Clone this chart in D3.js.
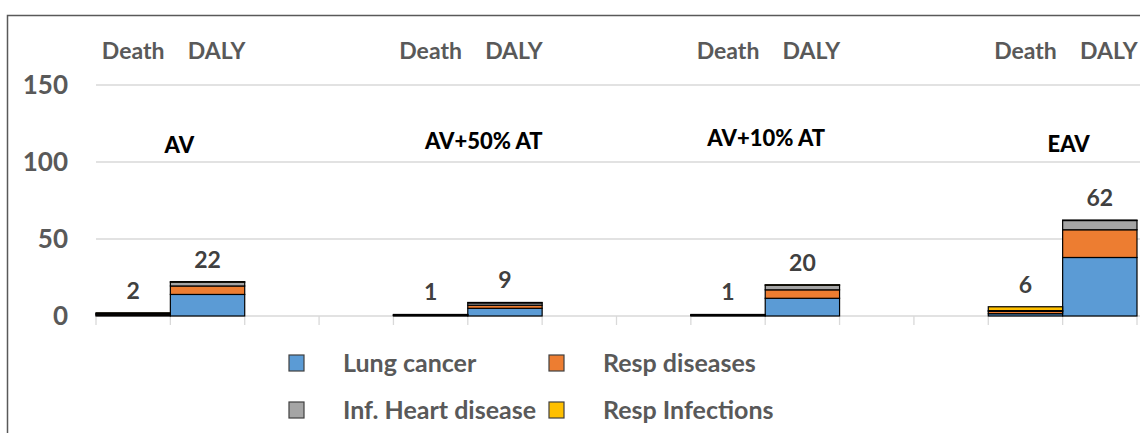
<!DOCTYPE html>
<html>
<head>
<meta charset="utf-8">
<script src="https://cdn.jsdelivr.net/npm/d3@7"></script>
<style>
  body { margin: 0; background: #fff; }
  svg { display: block; font-family: Lato, "Open Sans", sans-serif; font-weight: bold; }
  .grid line { stroke: #d9d9d9; stroke-width: 1.3; }
  .bar { stroke: #000; stroke-width: 1.2; }
</style>
</head>
<body>
<svg id="svg" width="1140" height="433"></svg>
<script>
const scenarios = ["AV", "AV+50% AT", "AV+10% AT", "EAV"];
const causes = ["Lung cancer", "Resp diseases", "Inf. Heart disease", "Resp Infections"];
const colors = ["#5b9bd5", "#ed7d31", "#a5a5a5", "#ffc000"];

// values per cause, one entry per scenario
const deathLung = [0.6, 0.3, 0.3, 1.5];
const deathResp = [0.6, 0.3, 0.3, 1.5];
const deathHeart = [0.3, 0.1, 0.1, 0.5];
const deathInf = [0.6, 0.3, 0.3, 2.5];
const dalyLung = [14, 5, 11.5, 38];
const dalyResp = [5.5, 2, 5.5, 18];
const dalyHeart = [2.5, 1.5, 3, 6];
const dalyInf = [0.3, 0.3, 0.3, 0.3];

const deathLabels = ["2", "1", "1", "6"];
const dalyLabels = ["22", "9", "20", "62"];
const yTicks = [0, 50, 100, 150];

const svg = d3.select("svg#svg");

// frame
svg.append("path")
  .attr("d", "M7.5,433 V15.5 H1140")
  .attr("fill", "none")
  .attr("stroke", "#595959")
  .attr("stroke-width", 1.5);

const slots = d3.range(14);
const x = d3.scaleBand().domain(slots).range([96, 1137]).padding(0);
const y = d3.scaleLinear().domain([0, 150]).range([316, 85]);

// gridlines
const grid = svg.append("g").attr("class", "grid");
grid.selectAll("line.h")
  .data(yTicks)
  .enter()
  .append("line")
  .attr("x1", 96).attr("x2", 1140)
  .attr("y1", d => y(d)).attr("y2", d => y(d));

// category tick marks under the baseline
grid.selectAll("line.t")
  .data(d3.range(15))
  .enter()
  .append("line")
  .attr("x1", d => 96 + d * x.bandwidth())
  .attr("x2", d => 96 + d * x.bandwidth())
  .attr("y1", y(0)).attr("y2", y(0) + 9);

svg.selectAll("text.ytick")
  .data(yTicks)
  .enter()
  .append("text")
  .attr("class", "ytick")
  .attr("x", 68)
  .attr("y", d => y(d))
  .attr("dy", "0.36em")
  .attr("text-anchor", "end")
  .attr("font-size", 26)
  .attr("fill", "#595959")
  .text(d => d);

// build bars
const deathVals = [deathLung, deathResp, deathHeart, deathInf];
const dalyVals = [dalyLung, dalyResp, dalyHeart, dalyInf];
const bars = [];
scenarios.forEach(function(s, i) {
  bars.push({ slot: i * 4, vals: deathVals.map(v => v[i]), label: deathLabels[i] });
  bars.push({ slot: i * 4 + 1, vals: dalyVals.map(v => v[i]), label: dalyLabels[i] });
});

const stack = d3.stack().keys(d3.range(4)).value((d, k) => d.vals[k]);
const series = stack(bars);

svg.append("g").selectAll("g")
  .data(series)
  .enter()
  .append("g")
  .attr("fill", (d, i) => colors[i])
  .selectAll("rect")
  .data(d => d)
  .enter()
  .append("rect")
  .attr("class", "bar")
  .attr("x", d => x(d.data.slot))
  .attr("width", x.bandwidth())
  .attr("y", d => y(d[1]))
  .attr("height", d => y(d[0]) - y(d[1]));

svg.selectAll("text.value")
  .data(bars)
  .enter()
  .append("text")
  .attr("class", "value")
  .attr("x", d => x(d.slot) + x.bandwidth() / 2)
  .attr("y", d => y(d3.sum(d.vals)) - 14)
  .attr("text-anchor", "middle")
  .attr("font-size", 23)
  .attr("fill", "#404040")
  .text(d => d.label);

// Death / DALY headers
scenarios.forEach(function(s, i) {
  svg.append("text")
    .attr("x", x(i * 4) + x.bandwidth() / 2)
    .attr("y", 59)
    .attr("text-anchor", "middle")
    .attr("font-size", 23)
    .attr("fill", "#595959")
    .text("Death");
  svg.append("text")
    .attr("x", x(i * 4 + 1) + x.bandwidth() / 2 + 9)
    .attr("y", 59)
    .attr("text-anchor", "middle")
    .attr("font-size", 23)
    .attr("fill", "#595959")
    .text("DALY");
});

// scenario titles (hand placed text boxes)
const titleDx = [9, 16, 1, 6];
const titleY = [153, 149, 146, 152];
svg.selectAll("text.title")
  .data(scenarios)
  .enter()
  .append("text")
  .attr("class", "title")
  .attr("x", (d, i) => x(i * 4 + 1) + titleDx[i])
  .attr("y", (d, i) => titleY[i])
  .attr("text-anchor", "middle")
  .attr("font-size", 22)
  .attr("font-weight", 900)
  .attr("fill", "#000")
  .text(d => d);

// legend
const legend = svg.append("g").selectAll("g")
  .data(causes)
  .enter()
  .append("g")
  .attr("transform", (d, i) => "translate(" + (i % 2 === 0 ? 289 : 549) + "," + (i < 2 ? 363 : 410) + ")");

legend.append("rect")
  .attr("x", 0).attr("y", -8)
  .attr("width", 15).attr("height", 16)
  .attr("fill", (d, i) => colors[i])
  .attr("stroke", "#404040")
  .attr("stroke-width", 1.2);

legend.append("text")
  .attr("x", 54)
  .attr("y", 0)
  .attr("dy", "0.36em")
  .attr("font-size", 25)
  .attr("fill", "#595959")
  .text(d => d);
</script>
</body>
</html>
